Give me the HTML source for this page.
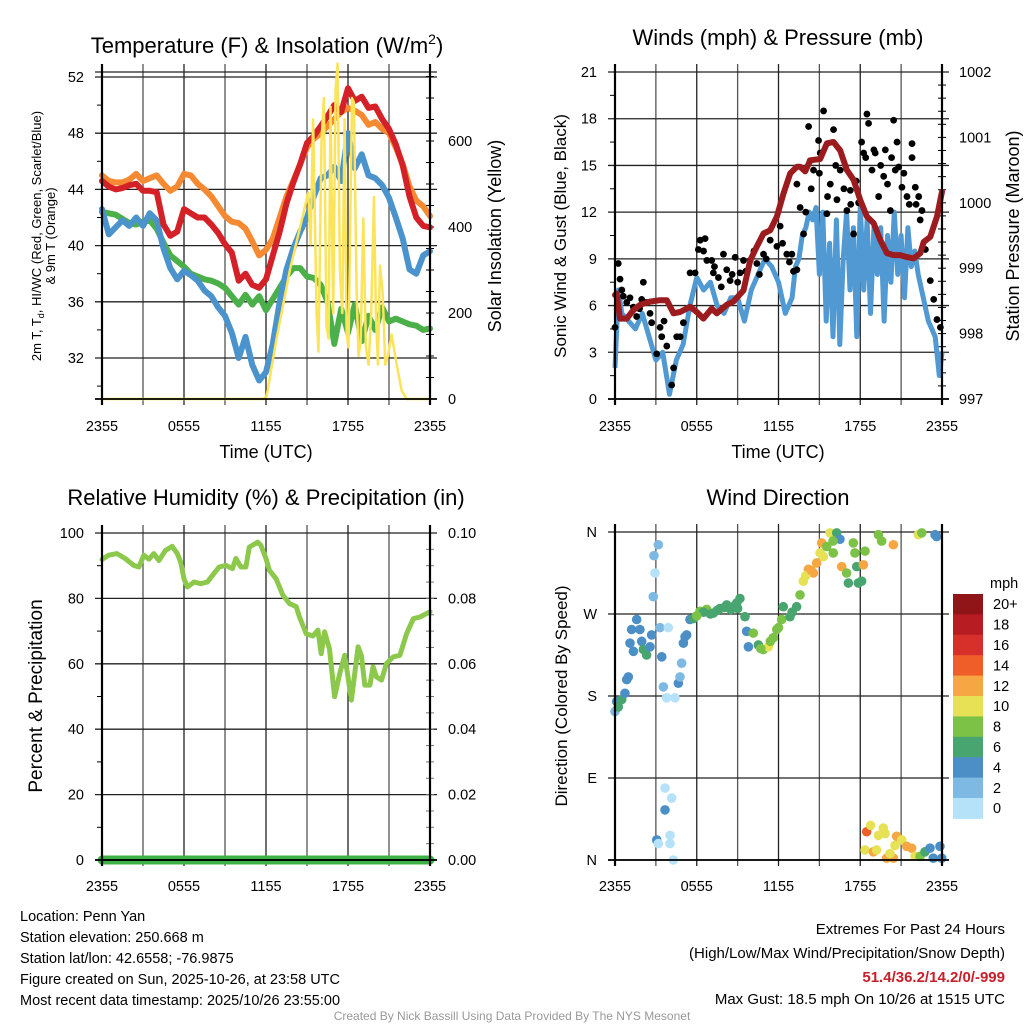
<!DOCTYPE html>
<html><head><meta charset="utf-8"><style>
html,body{margin:0;padding:0;background:#fff;}
svg{display:block;font-family:"Liberation Sans",Arial,sans-serif;}
</style></head><body>
<svg id="chart" width="1024" height="1024" viewBox="0 0 1024 1024" xmlns="http://www.w3.org/2000/svg">
<rect width="1024" height="1024" fill="#fff"/>
<g id="p1"></g>
<g id="p2"></g>
<g id="p3"></g>
<g id="p4"></g>
<g id="txt">
<text x="267" y="53" font-size="22" text-anchor="middle">Temperature (F) &amp; Insolation (W/m<tspan font-size="14" dy="-9">2</tspan><tspan dy="9">)</tspan></text>
<text x="778" y="45" font-size="22" text-anchor="middle">Winds (mph) &amp; Pressure (mb)</text>
<text x="266" y="505" font-size="22" text-anchor="middle">Relative Humidity (%) &amp; Precipitation (in)</text>
<text x="778" y="505" font-size="22" text-anchor="middle">Wind Direction</text>
<text x="266" y="458" font-size="18" text-anchor="middle">Time (UTC)</text>
<text x="778" y="458" font-size="18" text-anchor="middle">Time (UTC)</text>
<text transform="translate(41,236) rotate(-90)" font-size="13" text-anchor="middle">2m T, T<tspan font-size="9" dy="3">d</tspan><tspan dy="-3">, HI/WC (Red, Green, Scarlet/Blue)</tspan></text>
<text transform="translate(55,236) rotate(-90)" font-size="13" text-anchor="middle">&amp; 9m T (Orange)</text>
<text transform="translate(501,236) rotate(-90)" font-size="18" text-anchor="middle">Solar Insolation (Yellow)</text>
<text transform="translate(566,236) rotate(-90)" font-size="17" text-anchor="middle">Sonic Wind &amp; Gust (Blue, Black)</text>
<text transform="translate(1019,236) rotate(-90)" font-size="18" text-anchor="middle">Station Pressure (Maroon)</text>
<text transform="translate(42,696) rotate(-90)" font-size="19" text-anchor="middle">Percent &amp; Precipitation</text>
<text transform="translate(567,696) rotate(-90)" font-size="17" text-anchor="middle">Direction (Colored By Speed)</text>
<g font-size="14.5">
<text x="20" y="921">Location: Penn Yan</text>
<text x="20" y="942">Station elevation: 250.668 m</text>
<text x="20" y="963">Station lat/lon: 42.6558; -76.9875</text>
<text x="20" y="984">Figure created on Sun, 2025-10-26, at 23:58 UTC</text>
<text x="20" y="1005">Most recent data timestamp: 2025/10/26 23:55:00</text>
</g>
<g font-size="15" text-anchor="end">
<text x="1005" y="934">Extremes For Past 24 Hours</text>
<text x="1005" y="958">(High/Low/Max Wind/Precipitation/Snow Depth)</text>
<text x="1005" y="982" fill="#c8202a" font-weight="bold">51.4/36.2/14.2/0/-999</text>
<text x="1005" y="1004">Max Gust: 18.5 mph On 10/26 at 1515 UTC</text>
</g>
<text x="512" y="1020" font-size="12" fill="#999" text-anchor="middle">Created By Nick Bassill Using Data Provided By The NYS Mesonet</text>
</g>
</svg>
<script>
// ---------- data ----------
const tempHours = [0,0.5,1,1.5,2,2.5,3,3.5,4,4.5,5,5.5,6,6.5,7,7.5,8,8.5,9,9.5,10,10.5,11,11.5,12,12.5,13,13.5,14,14.5,15,15.5,16,16.5,17,17.5,18,18.5,19,19.5,20,20.5,21,21.5,22,22.5,23,23.5,24];
const redTemp = [44.6,44.2,44.0,44.1,44.3,44.4,43.9,43.9,43.8,41.5,40.7,41.0,42.6,42.3,42.0,42.0,41.5,40.9,40.1,39.5,37.5,38.0,37.2,37.0,37.6,39.3,41.0,43.0,44.5,45.8,47.3,47.8,48.5,49.2,50.0,49.5,51.2,50.3,50.6,49.8,49.9,49.0,48.3,47.2,45.7,43.5,42.0,41.4,41.3];
const orangeTemp = [45.0,44.6,44.5,44.5,44.7,45.1,44.6,44.8,45.0,44.4,43.9,44.2,45.1,45.0,44.4,44.0,43.5,42.8,42.1,41.7,41.6,41.2,40.3,39.3,39.7,40.5,42.0,43.5,44.6,45.8,47.0,47.6,48.0,48.5,49.0,49.5,49.8,49.6,49.3,48.6,48.8,48.3,48.0,47.0,45.8,44.2,43.2,42.8,42.1];
const blueTemp = [42.6,40.8,41.3,41.8,41.4,42.0,41.4,42.3,41.8,39.8,38.4,37.6,38.2,37.9,37.5,36.8,36.4,35.6,35.0,33.8,32.0,33.5,31.5,30.4,31.0,33.0,36.0,38.3,39.8,41.0,42.0,43.5,44.8,45.0,45.6,44.6,48.0,45.5,46.5,45.0,44.8,44.3,43.4,42.0,40.5,38.3,38.0,39.3,39.6];
const greenTemp = [42.4,42.3,42.2,41.9,41.6,41.5,41.7,41.8,41.2,40.2,39.3,38.9,38.5,38.0,37.8,37.6,37.5,37.3,37.0,36.4,35.8,36.5,35.8,36.4,35.4,36.2,37.0,37.8,38.4,38.4,37.8,37.7,37.2,36.0,33.0,35.5,33.8,35.8,33.2,35.0,34.0,35.6,34.6,34.8,34.6,34.4,34.3,34.0,34.1];
const solarHours = [0,11.79,12.04,12.77,13.75,14.72,15.09,15.26,15.45,15.70,15.84,16.06,16.24,16.43,16.58,16.72,16.92,17.09,17.24,17.41,17.58,17.75,17.9,18.04,18.29,18.43,18.63,18.77,18.92,19.12,19.31,19.51,19.7,19.9,20.04,20.19,20.34,20.53,20.73,20.92,21.19,21.56,21.92,22.29,24];
const solarValues = [0,0,5,140,300,430,480,360,650,200,110,600,700,170,140,680,200,720,780,300,200,650,150,120,700,690,250,100,130,420,120,80,200,470,200,80,310,250,80,100,150,80,20,0,0];

const windHours = [0,0.25,0.5,1,1.5,2,2.5,3,3.5,4,4.5,5,5.5,6,6.5,7,7.5,8,8.5,9,9.5,10,10.5,11,11.5,12,12.5,13,13.25,13.5,13.75,14,14.25,14.5,14.75,15,15.25,15.5,15.75,16,16.25,16.5,16.75,17,17.25,17.5,17.75,18,18.25,18.5,18.75,19,19.25,19.5,19.75,20,20.25,20.5,20.75,21,21.25,21.5,21.75,22,22.25,22.5,22.75,23,23.5,23.8,24];
const windSpeed = [2.0,7.0,5.5,5.0,4.5,5.5,4.0,2.5,3.0,0.3,2.5,3.5,6.0,7.8,7.0,7.5,6.0,5.5,6.5,6.5,5.0,7.0,8.0,9.0,8.5,7.5,5.5,6.5,8.5,9.0,10.5,11.0,12.0,11.5,12.3,8.0,12.0,5.0,10.0,4.0,11.5,3.5,9.0,12.0,7.0,11.0,4.0,12.5,7.0,11.5,5.5,11.0,8.0,11.0,5.0,10.5,7.5,12.0,8.0,10.5,6.5,11.0,8.5,9.5,8.0,7.0,6.0,5.0,4.0,1.5,3.0];
const gustHours = [0,0.24,0.37,0.61,0.86,1.10,1.35,1.59,1.96,2.08,2.57,2.69,3.06,3.31,3.43,3.80,4.16,4.53,4.78,5.02,5.51,5.88,6.12,6.25,6.61,6.74,7.10,7.22,7.59,7.96,8.20,8.45,8.82,9.18,9.43,9.92,10.41,10.90,11.39,11.88,12.12,12.61,12.98,13.35,13.35,13.59,13.84,14.21,14.33,14.57,14.94,15.06,15.31,15.55,15.80,16.04,16.29,16.53,17.02,17.27,17.51,17.88,18.25,18.49,18.61,18.86,19.10,19.35,19.72,19.84,20.21,20.45,20.57,20.82,21.06,21.43,21.80,21.80,22.04,22.29,22.53,22.78,23.14,23.39,23.63,23.88,6.5,7.3,7.8,8.6,9.0,10.2,10.6,11.1,12.3,12.8,13.1,14.0,14.4,15.0,15.6,16.2,16.8,17.3,17.7,18.1,18.4,19.0,19.5,20.0,20.3,20.7,21.2,21.6,22.1,22.4,2.3,1.8,0.5,3.6,4.3,9.6];
const gustSpeed = [4.6,8.7,7.7,6.6,6.2,6.5,5.9,5.3,6.4,7.5,5.5,4.9,2.9,4.6,4.0,3.4,0.9,4.0,4.0,4.9,8.1,8.1,9.6,10.2,10.3,8.9,8.9,8.1,7.8,9.3,8.3,7.6,9.1,8.1,8.9,8.9,8.7,9.3,10.2,9.8,11.1,9.3,9.3,8.3,13.8,12.3,10.6,17.5,15.3,14.7,16.6,15.8,18.5,11.9,13.8,17.3,12.8,14.7,12.1,13.4,10.6,12.6,15.8,18.3,17.7,14.7,15.8,13.0,14.3,16.0,12.1,17.9,14.7,14.9,13.6,13.0,16.4,15.5,13.6,13.0,12.1,9.6,7.6,6.4,5.1,4.6,9.5,8.5,7.2,8.0,7.5,9.5,8.0,9.0,10.0,8.8,8.2,12.0,13.5,14.5,13.0,15.0,13.5,12.5,14.0,16.5,15.5,16.0,15.0,13.8,15.5,16.5,14.5,12.5,12.5,11.5,6.2,5.8,7.0,5.0,2.0,8.2];
const pressHours = [0,0.12,0.37,0.86,1.35,1.84,2.57,3.31,3.80,4.29,4.78,5.51,6.0,6.49,7.1,7.47,8.2,8.69,9.43,9.92,10.41,10.9,11.39,11.88,12.37,12.86,13.35,13.59,13.96,14.33,15.06,15.55,16.04,16.53,17.02,17.51,18.0,18.49,18.98,19.47,19.96,20.45,20.94,21.43,21.92,22.41,22.66,23.14,23.63,24.0];
const pressValues = [998.59,998.61,998.23,998.23,998.36,998.44,998.49,998.51,998.51,998.31,998.33,998.41,998.33,998.23,998.38,998.31,998.44,998.49,998.66,999.12,999.33,999.53,999.58,999.79,1000.14,1000.45,1000.55,1000.55,1000.48,1000.65,1000.67,1000.91,1000.93,1000.80,1000.50,1000.35,1000.04,999.79,999.69,999.43,999.23,999.20,999.20,999.17,999.15,999.23,999.40,999.48,999.79,1000.17];

const rhHours = [0,0.49,1.1,1.7,2.33,2.7,3.06,3.43,3.8,4.16,4.65,5.14,5.51,5.76,6.0,6.25,6.74,7.22,7.71,8.08,8.57,9.06,9.55,9.8,10.16,10.53,10.78,11.39,11.63,12.0,12.25,12.74,13.23,13.72,14.21,14.45,14.94,15.43,15.8,16.04,16.29,16.65,17.02,17.39,17.76,18.0,18.25,18.74,18.98,19.23,19.6,19.84,20.08,20.45,20.82,21.31,21.8,22.29,22.78,23.27,24];
const rhValues = [91.9,93.2,93.7,92.2,90.1,89.6,93.2,92.0,93.7,91.6,94.7,95.9,93.7,91.1,86,83.5,85,84.5,85,87,89.6,90.1,89.1,92.2,89.6,89.6,95.7,97.2,96.2,92.2,88.6,86,81,78.4,77.5,74.3,69.2,68.5,70.3,63.1,69.8,64.5,49.9,57,62.6,56,48.9,65.2,62.5,53.5,53.5,59.1,56,55,60.1,62.1,62.6,69.2,73.8,74.3,75.9];
const precipHours = [0,24];
const precipValues = [0,0];

const dirHours = [0,0.12,0.24,0.49,0.73,0.86,0.98,1.35,1.10,1.22,1.59,1.83,1.96,2.08,2.32,2.57,2.69,2.81,2.86,2.94,3.18,3.30,3.43,3.55,3.91,3.79,4.40,4.65,4.77,4.89,5.02,5.14,5.26,5.50,5.75,6.24,6.73,7.22,7.71,8.20,8.69,8.93,9.17,9.54,9.66,9.79,10.15,10.52,10.89,11.25,11.62,11.87,12.23,12.35,12.84,13.33,13.58,13.82,14.19,14.56,14.80,15.05,15.17,15.54,15.78,16.27,16.02,16.51,16.64,17.00,17.13,17.49,17.61,17.74,17.86,18.10,18.23,18.35,19.33,19.57,20.43,22.26,22.51,23.49,23.61,3.67,4.16,3.67,3.06,3.18,4.04,4.04,4.28,18.47,18.76,19.33,19.69,19.82,18.35,18.96,19.20,19.94,20.43,20.67,21.04,21.41,21.77,22.02,22.39,22.75,23.12,23.36,23.85,23.98,20.55,20.18,6.5,7.0,7.5,8.0,8.5,9.0,6.0,12.0,11.4,10.7,13.0,14.0,14.4,15.3,16.0];
const dirDeg = [163,174,168,176,183,198,201,229,238,253,264,253,240,231,225,234,247,289,334,315,346,255,223,190,255,178,178,194,201,216,238,245,247,264,265,273,275,271,276,280,278,282,287,267,251,234,249,236,231,234,244,253,264,278,267,278,291,306,319,315,326,337,348,344,359,359,337,352,322,315,304,348,337,322,304,306,324,339,357,350,346,357,359,357,355,79,68,55,22,18,27,18,0,31,38,27,35,29,11,9,11,2,2,26,22,15,13,4,4,9,13,2,15,2,16,7,272,270,274,277,275,276,268,255,240,232,272,312,318,333,350];
const dirSpeed = [2,4,6,6,4,4,4,4,4,4,4,4,4,6,6,4,4,2,2,1,2,2,4,2,1,1,1,4,2,2,4,4,4,4,6,8,8,6,6,6,6,6,6,6,4,4,8,6,8,10,8,8,8,6,6,6,8,10,12,12,12,10,12,8,10,6,8,4,12,8,6,8,8,6,6,6,12,8,8,8,12,10,8,4,4,1,1,4,4,1,1,1,1,14,10,10,10,10,10,12,10,12,12,12,10,12,12,10,8,6,4,4,4,4,10,10,6,6,6,6,6,6,8,8,8,8,6,10,12,10,8];

const speedLabels = ["20+","18","16","14","12","10","8","6","4","2","0"];
const speedColors = ["#b5e2f8","#7db9e3","#4b8fc6","#48a56f","#7bc247","#e7e156","#f6a643","#ef5d28","#d7302a","#b71c22","#8f1518"];
const timeLabels = ["2355","0555","1155","1755","2355"];
const timeLabelHours = [0,6,12,18,24];

// ---------- helpers ----------
const NS = "http://www.w3.org/2000/svg";
function mk(parent, tag, attrs, text){
  const e = document.createElementNS(NS, tag);
  for (const k in attrs) e.setAttribute(k, attrs[k]);
  if (text !== undefined) e.textContent = text;
  parent.appendChild(e);
  return e;
}
function pathFrom(xs, ys, fx, fy){
  let d = "";
  for (let i=0;i<xs.length;i++) d += (i?"L":"M") + fx(xs[i]).toFixed(1) + "," + fy(ys[i]).toFixed(1);
  return d;
}

const L1=102,R1=430,L2=615,R2=942;
const xA = h => L1 + h*(R1-L1)/24;
const xB = h => L2 + h*(R2-L2)/24;

function grid(g, xf, top, bottom, left, right, hLines, namePrefix){
  for (let h=0; h<=24; h+=3){
    const x = xf(h);
    const ln = mk(g,"line",{x1:x,y1:top-8,x2:x,y2:bottom+6,stroke:(h%6===0)?"#222":"#555","stroke-width":1.3});
    
    
  }
  hLines.forEach(y=>{
    const ln = mk(g,"line",{x1:left-7,y1:y,x2:right+7,y2:y,stroke:"#222","stroke-width":1.3});
    
    
  });
}
function xLabels(g, xf, y, namePrefix){
  timeLabels.forEach((t,i)=>{
    const tx = mk(g,"text",{x:xf(timeLabelHours[i]),y:y,"font-size":14.5,"text-anchor":"middle"},t);
    
    
  });
}
function frame(g, l, t, r, b, namePrefix){
  const a = mk(g,"line",{x1:l,y1:t-8,x2:l,y2:b+6,stroke:"#000","stroke-width":2.2});
  
  
  const c = mk(g,"line",{x1:r,y1:t-8,x2:r,y2:b+6,stroke:"#000","stroke-width":2.2});
  
  
  const d = mk(g,"line",{x1:l-7,y1:b,x2:r+7,y2:b,stroke:"#000","stroke-width":1.8});
  
  
}

// ---------- Panel 1 ----------
(function(){
  const g = document.getElementById("p1");
  const top=72,bottom=399;
  const yT = T => 77 + (52-T)*14.05;
  const yW = W => 399 - W*0.43;
  const tTicks=[32,36,40,44,48,52];
  const wTicks=[0,200,400,600];
  grid(g,xA,top,bottom,L1,R1,tTicks.map(yT).concat([top]),"temp");
  for (let v=30; v<=52; v+=2){ if(v%4){const t=mk(g,"line",{x1:L1-5,y1:yT(v),x2:L1,y2:yT(v),stroke:"#000","stroke-width":1});
     }}
  for (let w=50; w<=750; w+=50){ const t=mk(g,"line",{x1:R1-4,y1:yW(w),x2:R1+4,y2:yW(w),stroke:"#000","stroke-width":1});
     }
  tTicks.forEach(v=>{const t=mk(g,"text",{x:84,y:yT(v)+5,"font-size":14.5,"text-anchor":"end"},String(v));
     });
  wTicks.forEach(v=>{const t=mk(g,"text",{x:448,y:yW(v)+5,"font-size":14.5},String(v));
     });
  const series=[[orangeTemp,"#f58a33","orange-9m-temp-line"],[greenTemp,"#4cb04a","green-dewpoint-line"],[blueTemp,"#4a93cc","blue-windchill-line"],[redTemp,"#d42127","red-2m-temp-line"]];
  series.forEach(s=>{
    const p = mk(g,"path",{d:pathFrom(tempHours,s[0],xA,yT),fill:"none",stroke:s[1],"stroke-width":6,"stroke-linejoin":"round","stroke-linecap":"round"});
    
    
  });
  const sp = mk(g,"path",{d:pathFrom(solarHours,solarValues,xA,yW),fill:"none",stroke:"#fbe35a","stroke-width":2.5,"stroke-linejoin":"round"});
  
  
  frame(g,L1,top,R1,bottom,"temp");
  xLabels(g,xA,431,"temp");
})();

// ---------- Panel 2 ----------
(function(){
  const g = document.getElementById("p2");
  const top=72,bottom=399;
  const yM = m => 399 - m*(327/21);
  const yP = p => 399 - (p-997)*65.4;
  const mTicks=[0,3,6,9,12,15,18,21];
  const pTicks=[997,998,999,1000,1001,1002];
  grid(g,xB,top,bottom,L2,R2,mTicks.map(yM),"wind");
  for (let p=997.2; p<1002; p+=0.2){ const t=mk(g,"line",{x1:R2-4,y1:yP(p),x2:R2+4,y2:yP(p),stroke:"#000","stroke-width":1});
     }
  for (let m=1.5; m<21; m+=3){ const t=mk(g,"line",{x1:L2-5,y1:yM(m),x2:L2,y2:yM(m),stroke:"#000","stroke-width":1});
     }
  mTicks.forEach(v=>{const t=mk(g,"text",{x:597,y:yM(v)+5,"font-size":14.5,"text-anchor":"end"},String(v));
     });
  pTicks.forEach(v=>{const t=mk(g,"text",{x:959,y:yP(v)+5,"font-size":14.5},String(v));
     });
  const wp = mk(g,"path",{d:pathFrom(windHours,windSpeed,xB,yM),fill:"none",stroke:"#5199d2","stroke-width":5,"stroke-linejoin":"round"});
  
  
  gustHours.forEach((h,i)=>{
    const c = mk(g,"circle",{cx:xB(h),cy:yM(gustSpeed[i]),r:3.4,fill:"#000"});
    
    
  });
  const pp = mk(g,"path",{d:pathFrom(pressHours,pressValues,xB,yP),fill:"none",stroke:"#9b1b1e","stroke-width":6,"stroke-linejoin":"round","stroke-linecap":"round"});
  
  
  frame(g,L2,top,R2,bottom,"wind");
  xLabels(g,xB,431,"wind");
})();

// ---------- Panel 3 ----------
(function(){
  const g = document.getElementById("p3");
  const top=533,bottom=860;
  const yR = r => 860 - r*3.27;
  const rTicks=[0,20,40,60,80,100];
  const pTickLabels=["0.00","0.02","0.04","0.06","0.08","0.10"];
  grid(g,xA,top,bottom,L1,R1,rTicks.map(yR),"rh");
  for (let r=10; r<100; r+=20){ const t=mk(g,"line",{x1:L1-5,y1:yR(r),x2:L1,y2:yR(r),stroke:"#000","stroke-width":1});
     }
  for (let r=5; r<100; r+=5){ const t=mk(g,"line",{x1:R1-4,y1:yR(r),x2:R1+4,y2:yR(r),stroke:"#777","stroke-width":1});
     }
  rTicks.forEach((v,i)=>{
    const t=mk(g,"text",{x:84,y:yR(v)+5,"font-size":14.5,"text-anchor":"end"},String(v));
     
    const t2=mk(g,"text",{x:448,y:yR(v)+5,"font-size":14.5},pTickLabels[i]);
     
  });
  const rp = mk(g,"path",{d:pathFrom(rhHours,rhValues,xA,yR),fill:"none",stroke:"#8cc84b","stroke-width":5,"stroke-linejoin":"round","stroke-linecap":"round"});
  
  
  const yPr = v => 860 - v*3270;
  const pr = mk(g,"path",{d:pathFrom(precipHours,precipValues,xA,yPr),fill:"none",stroke:"#3db046","stroke-width":9,"stroke-linecap":"round"});
  
  
  frame(g,L1,top,R1,bottom,"rh");
  const bl = mk(g,"line",{x1:L1,y1:bottom,x2:R1,y2:bottom,stroke:"#000","stroke-width":1.5});
  
  
  xLabels(g,xA,891,"rh");
})();

// ---------- Panel 4 ----------
(function(){
  const g = document.getElementById("p4");
  const top=532,bottom=860;
  const yD = d => 860 - d*(328/360);
  const dTicks=[0,90,180,270,360];
  const dLabels=["N","E","S","W","N"];
  grid(g,xB,top,bottom,L2,R2,dTicks.map(yD),"dir");
  dTicks.forEach((v,i)=>{const t=mk(g,"text",{x:597,y:yD(v)+5,"font-size":14.5,"text-anchor":"end"},dLabels[i]);
     });
  dirHours.forEach((h,i)=>{
    const c = mk(g,"circle",{cx:xB(h),cy:yD(dirDeg[i]),r:4.8,fill:speedColors[Math.min(10,Math.floor(dirSpeed[i]/2))]});
    
    
  });
  frame(g,L2,top,R2,bottom,"dir");
  xLabels(g,xB,891,"dir");
  const cbTop=594, segH=20.4;
  const u = mk(g,"text",{x:990,y:588,"font-size":14.5},"mph");
  
  
  speedLabels.forEach((lab,i)=>{
    const r = mk(g,"rect",{x:953,y:cbTop+i*segH,width:30,height:segH+0.5,fill:speedColors[10-i]});
    
    
    const t = mk(g,"text",{x:993,y:cbTop+i*segH+segH/2+5,"font-size":14.5},lab);
    
    
  });
})();
</script>
</body></html>
